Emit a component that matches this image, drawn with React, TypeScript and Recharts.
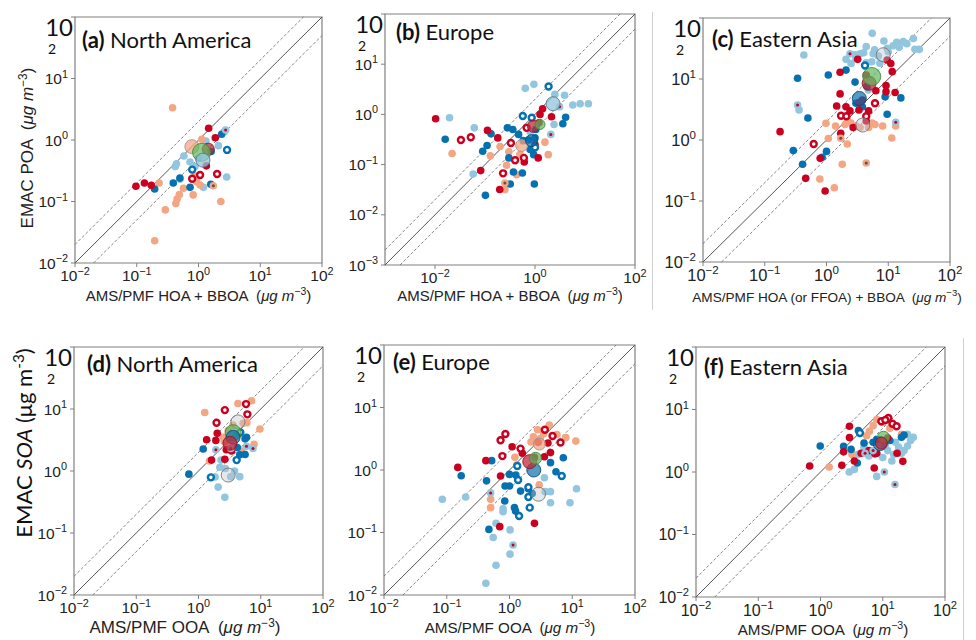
import React from "react";
import { ScatterChart, Scatter, XAxis, YAxis, ReferenceLine, ReferenceArea } from "recharts";

type P = [number, number];
type M = [number, number, string, number];

const RED = "#ca0020";
const SALMON = "#f4a582";
const LTBLUE = "#92c5de";
const BLUE = "#0571b0";

// ---- (a) North America, POA ----
const aRed: P[] = [[0.097, 0.177], [0.133, 0.2], [0.172, 0.183], [1.46, 1.55], [1.87, 1.09], [1.34, 0.38]];
const aRedRing: P[] = [[0.79, 0.235], [1.06, 0.27], [2.0, 0.28]];
const aSalmon: P[] = [[0.38, 3.35], [0.195, 0.023], [0.29, 0.073], [0.43, 0.093], [0.45, 0.11], [0.49, 0.13], [0.57, 0.164], [0.82, 0.128], [0.23, 0.2], [2.3, 0.1], [0.88, 0.26], [1.06, 0.185], [1.13, 1.03], [0.93, 0.21]];
const aSalmonDot: P[] = [[1.74, 0.18]];
const aLtBlue: P[] = [[0.42, 0.37], [0.44, 0.41], [0.58, 0.55], [0.73, 0.44], [0.88, 0.37], [1.32, 0.96], [2.1, 0.81], [2.86, 0.25], [1.2, 0.17], [0.5, 0.23], [2.6, 1.36], [1.0, 0.5]];
const aLtBlueDot: P[] = [[2.75, 1.45]];
const aBlue: P[] = [[0.195, 0.16], [0.39, 0.2], [0.73, 0.17], [1.58, 0.19], [2.37, 1.24], [1.6, 0.65], [0.5, 0.24]];
const aBlueRing: P[] = [[0.79, 0.33], [2.9, 0.69]];
const aMeans: M[] = [[0.78, 0.78, "s", 7], [1.44, 0.71, "r", 6], [1.12, 0.63, "g", 9], [1.18, 0.47, "l", 7]];

// ---- (b) Europe, POA ----
const bRed: P[] = [[0.0103, 0.82], [0.112, 0.48], [0.18, 0.34], [0.082, 0.076], [0.197, 0.032], [0.61, 0.113], [1.16, 0.136], [1.0, 0.25], [1.26, 1.0], [1.42, 1.3], [2.14, 0.9], [1.2, 0.68]];
const bRedRing: P[] = [[0.033, 0.31], [0.052, 0.35], [0.33, 0.27], [0.4, 0.122], [0.23, 0.067], [0.6, 0.136], [0.68, 0.54]];
const bSalmon: P[] = [[0.022, 0.166], [0.2, 0.23], [0.128, 0.15], [0.27, 0.097], [0.43, 0.063], [0.25, 0.032], [1.58, 0.28], [1.84, 0.158], [0.3, 0.18], [0.5, 0.16]];
const bSalmonDot: P[] = [[0.25, 0.043]];
const bLtBlue: P[] = [[0.0195, 0.86], [0.061, 0.54], [0.058, 0.065], [0.64, 3.3], [0.95, 4.0], [2.5, 2.5], [3.9, 2.4], [5.7, 1.54], [8.0, 1.63], [11.7, 1.63], [2.4, 0.63], [0.8, 0.45]];
const bLtBlueDot: P[] = [[3.1, 1.42], [2.07, 0.4]];
const bBlue: P[] = [[0.016, 0.32], [0.132, 0.41], [0.11, 0.24], [0.09, 0.185], [0.28, 0.54], [0.36, 0.5], [0.47, 0.4], [0.3, 0.136], [0.37, 0.071], [0.56, 0.068], [0.32, 0.041], [0.102, 0.0244], [0.97, 0.041], [4.1, 0.88], [3.6, 0.65], [0.8, 0.2], [1.0, 0.34], [0.74, 0.31], [1.04, 0.5], [0.94, 0.158], [0.58, 0.3]];
const bBlueRing: P[] = [[1.87, 3.6], [0.57, 0.93], [0.86, 0.86], [1.0, 0.22]];
const bMeans: M[] = [[2.3, 1.63, "l", 7], [0.54, 0.24, "s", 6], [0.85, 0.3, "b", 6], [0.93, 0.58, "r", 6], [1.26, 0.63, "g", 5]];

// ---- (c) Eastern Asia, POA ----
const cRed: P[] = [[0.177, 1.37], [1.66, 12.9], [3.2, 21], [1.66, 5.7], [1.46, 3.6], [2.07, 3.5], [3.36, 4.1], [3.35, 3.1], [4.8, 3.0], [4.4, 2.05], [2.7, 1.6], [6.3, 6.4], [9.2, 7.8], [9.2, 6.2], [12.9, 6.0], [11.6, 13.2], [9.6, 20.5], [11, 18], [4.4, 11.6], [1.7, 1.29], [0.79, 0.5], [0.46, 0.235], [0.95, 0.146], [2.4, 3.0], [3.8, 4.5]];
const cRedRing: P[] = [[6.1, 4.0], [1.72, 2.5], [2.1, 2.45], [4.4, 2.45], [0.62, 0.86]];
const cSalmon: P[] = [[0.98, 1.88], [1.4, 1.7], [1.07, 1.06], [2.17, 0.86], [1.8, 0.4], [0.78, 0.23], [1.34, 0.165], [6.1, 1.8], [8.1, 1.7], [11.4, 1.08], [13.2, 1.7], [2.0, 1.8], [2.5, 1.9], [3.0, 1.7], [3.5, 1.6], [4.8, 1.6], [2.2, 2.1], [5.5, 1.9]];
const cSalmonDot: P[] = [[4.4, 0.42], [1.7, 1.07]];
const cLtBlue: P[] = [[5.5, 56], [4.4, 34], [8.5, 42], [13.7, 40], [17.5, 41], [25.5, 46], [31.9, 30.6], [27, 30.6], [0.43, 24.7], [2.07, 21], [2.9, 25], [3.5, 26], [5.7, 26], [6.9, 23.8], [5.4, 19.2], [7.3, 18.1], [4.4, 18.5], [0.36, 3.1], [4.75, 6.6], [9.6, 32], [12, 35], [3.0, 22], [4.0, 27], [6.0, 30], [10, 28], [15, 33], [20, 38], [2.5, 18]];
const cLtBlueDot: P[] = [[0.34, 3.75], [13.2, 1.95], [2.4, 26]];
const cBlue: P[] = [[0.34, 10.3], [1.07, 11.6], [2.07, 14], [2.9, 8.9], [0.5, 2.3], [0.29, 0.67], [0.41, 0.4], [1.0, 0.65], [0.85, 0.52], [8.9, 5.1], [16, 4.9], [9.6, 2.65], [3.0, 4.0], [3.8, 3.5], [4.5, 7.5]];
const cBlueRing: P[] = [[4.2, 16.6]];
const cMeans: M[] = [[8.3, 25, "o", 7], [3.86, 1.76, "o", 7], [3.4, 4.8, "b", 7], [4.9, 8.5, "r", 7], [5.4, 11, "g", 9]];

// ---- (d) North America, SOA ----
const dRed: P[] = [[1.35, 3.2], [1.9, 3.1], [2.0, 4.05], [1.62, 1.5], [2.65, 1.55], [2.8, 2.2], [3.4, 2.1]];
const dRedRing: P[] = [[2.65, 9.6], [5.8, 12], [6.1, 8.2], [1.95, 6.0]];
const dSalmon: P[] = [[1.26, 8.8], [4.3, 12.3], [7.1, 13.6], [9.7, 4.75], [7.8, 2.7], [4.9, 2.1], [5.2, 5.9], [3.6, 5.5], [6.0, 6.0], [2.6, 3.0], [2.5, 3.5], [4.5, 4.0], [1.5, 1.45], [3.0, 4.5], [4.0, 3.8]];
const dLtBlue: P[] = [[2.07, 0.55], [2.65, 0.376], [2.2, 1.15], [2.7, 1.1], [4.6, 0.81], [3.8, 1.0], [3.3, 0.81], [1.85, 0.8], [2.3, 1.5]];
const dLtBlueDot: P[] = [[1.9, 2.2], [5.9, 2.5], [3.3, 2.3], [7.5, 2.3]];
const dBlue: P[] = [[0.7, 0.89], [1.19, 2.26], [5.6, 3.3], [5.9, 3.5], [4.6, 1.83], [5.6, 1.85], [4.2, 2.4]];
const dBlueRing: P[] = [[1.58, 0.79], [4.1, 1.5], [4.7, 4.2]];
const dMeans: M[] = [[4.3, 6.2, "o", 7], [3.0, 0.86, "o", 7], [3.6, 4.15, "g", 8], [3.6, 3.5, "b", 7], [3.2, 2.8, "r", 7]];

// ---- (e) Europe, SOA ----
const eRed: P[] = [[0.15, 1.1], [0.42, 1.41], [0.72, 0.8], [1.1, 2.36], [1.6, 1.85], [2.5, 0.14], [0.7, 0.124], [2.86, 2.77], [4.1, 2.7], [4.5, 1.9], [3.6, 1.63], [2.5, 1.6]];
const eRedRing: P[] = [[0.72, 3.0], [0.86, 3.77], [0.77, 1.67], [1.5, 2.2], [3.66, 4.4], [4.85, 3.5], [6.5, 2.75]];
const eSalmon: P[] = [[4.3, 5.25], [2.8, 4.4], [2.4, 3.4], [7.9, 3.3], [11.4, 2.9], [5.7, 3.7], [3.1, 3.2], [1.22, 1.6], [1.3, 1.2], [2.97, 0.58], [0.5, 0.34], [0.5, 0.25], [3.5, 3.8], [2.2, 2.8]];
const eLtBlue: P[] = [[0.085, 0.34], [0.2, 0.37], [0.79, 0.215], [0.79, 0.24], [0.61, 0.14], [0.55, 0.083], [1.02, 0.11], [1.02, 0.045], [0.61, 0.03], [0.42, 0.0154], [3.7, 0.45], [4.5, 0.45], [4.5, 0.3], [9.2, 0.3], [11.7, 0.5], [3.6, 0.75]];
const eLtBlueDot: P[] = [[1.14, 0.063], [0.5, 0.43]];
const eBlue: P[] = [[0.17, 0.81], [0.43, 0.67], [0.52, 1.41], [0.85, 0.555], [1.0, 0.555], [1.26, 0.83], [1.5, 0.46], [0.84, 0.32], [1.2, 0.25], [1.25, 0.22], [2.0, 0.5], [2.3, 0.42], [5.5, 0.94], [4.5, 1.31], [7.2, 1.57], [0.47, 0.112], [1.0, 0.85]];
const eBlueRing: P[] = [[1.37, 0.69], [1.33, 1.16], [2.0, 0.53], [2.0, 0.37], [2.1, 0.25], [1.42, 0.184], [6.8, 0.8]];
const eMeans: M[] = [[2.9, 0.41, "o", 7], [2.44, 1.0, "b", 7], [2.1, 1.36, "r", 7], [2.6, 1.54, "g", 6], [3.0, 2.6, "s", 6]];

// ---- (f) Eastern Asia, SOA ----
const fRed: P[] = [[0.67, 1.25], [2.92, 5.4], [2.92, 3.55], [2.2, 1.28], [2.35, 2.1], [3.5, 1.5], [7.3, 1.16], [21, 1.48], [7.5, 1.95], [8.0, 2.0], [17, 2.0], [12, 3.5], [6.0, 2.2], [4.5, 2.0]];
const fRedRing: P[] = [[12.3, 7.3], [14.3, 5.9], [16.7, 5.4], [9.5, 6.5], [11, 6.8]];
const fSalmon: P[] = [[1.38, 1.2], [8.0, 6.9], [6.1, 4.5], [7.0, 5.5], [10, 6.2], [13, 5.0], [20, 4.0], [5.5, 3.8], [3.2, 1.9]];
const fLtBlue: P[] = [[2.9, 1.0], [8.0, 0.85], [31, 3.6], [25, 4.0], [6.0, 1.8], [8.0, 2.0], [10, 1.7], [12, 2.2], [15, 1.9], [18, 2.5], [20, 2.0], [25, 2.6], [28, 3.2], [4.0, 1.9], [5.0, 2.5], [14, 1.5], [22, 2.2], [16, 3.0], [11, 2.7], [3.5, 1.1]];
const fLtBlueDot: P[] = [[10.6, 1.0], [15.7, 0.63], [5.2, 2.0], [7.0, 2.2]];
const fBlue: P[] = [[0.99, 2.6], [4.07, 4.6], [2.35, 2.57], [3.1, 2.3], [3.9, 1.39], [20, 3.6], [22, 3.9], [7.0, 3.0], [8.0, 3.3], [5.0, 2.9], [13, 3.2]];
const fBlueRing: P[] = [[4.3, 4.2]];
const fMeans: M[] = [[9.1, 2.85, "b", 7], [10.3, 3.6, "g", 6], [9.5, 2.9, "r", 6]];

const decadeTicks = [0.01, 0.1, 1, 10, 100];
const bXTicks = [0.01, 1, 100];
const bYTicks = [0.001, 0.01, 0.1, 1, 10, 100];

const TICK_FONT = "'Liberation Sans', Arial, sans-serif";
const TITLE_FONT = "Lato, 'Open Sans', sans-serif";

const pts = (arr: P[]) => arr.map(([x, y]) => ({ x, y }));

const dotShape = (fill: string) => (p: any) => <circle cx={p.cx} cy={p.cy} r={3.8} fill={fill} />;
const ringShape = (stroke: string) => (p: any) => (
  <circle cx={p.cx} cy={p.cy} r={3} fill="#fff" stroke={stroke} strokeWidth={2.4} />
);
const centerShape = (fill: string, inner: string) => (p: any) => (
  <g>
    <circle cx={p.cx} cy={p.cy} r={3.8} fill={fill} />
    <circle cx={p.cx} cy={p.cy} r={1.5} fill={inner} />
  </g>
);

const meanStyle: Record<string, { fill: string; stroke: string; op: number }> = {
  g: { fill: "#5cb85c", stroke: "#3f8a3f", op: 0.7 },
  r: { fill: "#c0283a", stroke: "#8a1a28", op: 0.75 },
  s: { fill: SALMON, stroke: "#999", op: 0.75 },
  l: { fill: LTBLUE, stroke: "#5a7a90", op: 0.75 },
  b: { fill: BLUE, stroke: "#1a4a70", op: 0.7 },
  o: { fill: "#bcc6cc", stroke: "#777", op: 0.4 },
};
const meanShape = (p: any) => {
  const d = p.payload || p;
  const st = meanStyle[d.k];
  return <circle cx={p.cx} cy={p.cy} r={d.r} fill={st.fill} fillOpacity={st.op} stroke={st.stroke} strokeWidth={0.9} />;
};

const expLabel = (v: number) => {
  const e = Math.round(Math.log10(v));
  return e < 0 ? "\u2212" + -e : String(e);
};

function XTick(props: any) {
  const { x, y, payload, fs } = props;
  return (
    <text x={x} y={y + fs * 0.72} textAnchor="middle" fontFamily={TICK_FONT} fontSize={fs} fill="#222">
      10
      <tspan dy={-fs * 0.42} fontSize={fs * 0.7}>{expLabel(payload.value)}</tspan>
    </text>
  );
}

function YTick(props: any) {
  const { x, y, payload, fs } = props;
  if (payload.value >= 100) {
    return (
      <g>
        <text x={x + 5} y={y + 19} textAnchor="end" fontFamily={TITLE_FONT} fontSize={24} fill="#111">10</text>
        <text x={x - 20} y={y + 37} fontFamily={TITLE_FONT} fontSize={14} fill="#111">2</text>
      </g>
    );
  }
  return (
    <text x={x} y={y + fs * 0.36} textAnchor="end" fontFamily={TICK_FONT} fontSize={fs} fill="#222">
      10
      <tspan dy={-fs * 0.42} fontSize={fs * 0.7}>{expLabel(payload.value)}</tspan>
    </text>
  );
}

type Series = {
  red: P[]; redRing: P[]; salmon: P[]; salmonDot: P[]; ltBlue: P[]; ltBlueDot: P[];
  blue: P[]; blueRing: P[]; means: M[];
};

const panels = [
  { left: 75, top: 17, w: 247, h: 246, xd: [0.01, 100], yd: [0.01, 100], xt: decadeTicks, yt: decadeTicks, fs: 15.5,
    s: { red: aRed, redRing: aRedRing, salmon: aSalmon, salmonDot: aSalmonDot, ltBlue: aLtBlue, ltBlueDot: aLtBlueDot, blue: aBlue, blueRing: aBlueRing, means: aMeans } },
  { left: 385, top: 14, w: 250, h: 251, xd: [0.001, 100], yd: [0.001, 100], xt: bXTicks, yt: bYTicks, fs: 15.5,
    s: { red: bRed, redRing: bRedRing, salmon: bSalmon, salmonDot: bSalmonDot, ltBlue: bLtBlue, ltBlueDot: bLtBlueDot, blue: bBlue, blueRing: bBlueRing, means: bMeans } },
  { left: 703, top: 18, w: 247, h: 244, xd: [0.01, 100], yd: [0.01, 100], xt: decadeTicks, yt: decadeTicks, fs: 16.5,
    s: { red: cRed, redRing: cRedRing, salmon: cSalmon, salmonDot: cSalmonDot, ltBlue: cLtBlue, ltBlueDot: cLtBlueDot, blue: cBlue, blueRing: cBlueRing, means: cMeans } },
  { left: 74, top: 347, w: 249, h: 248, xd: [0.01, 100], yd: [0.01, 100], xt: decadeTicks, yt: decadeTicks, fs: 15.5,
    s: { red: dRed, redRing: dRedRing, salmon: dSalmon, salmonDot: [], ltBlue: dLtBlue, ltBlueDot: dLtBlueDot, blue: dBlue, blueRing: dBlueRing, means: dMeans } },
  { left: 384, top: 345, w: 251, h: 250, xd: [0.01, 100], yd: [0.01, 100], xt: decadeTicks, yt: decadeTicks, fs: 15.5,
    s: { red: eRed, redRing: eRedRing, salmon: eSalmon, salmonDot: [], ltBlue: eLtBlue, ltBlueDot: eLtBlueDot, blue: eBlue, blueRing: eBlueRing, means: eMeans } },
  { left: 696, top: 347, w: 249, h: 250, xd: [0.01, 100], yd: [0.01, 100], xt: decadeTicks, yt: decadeTicks, fs: 16,
    s: { red: fRed, redRing: fRedRing, salmon: fSalmon, salmonDot: [], ltBlue: fLtBlue, ltBlueDot: fLtBlueDot, blue: fBlue, blueRing: fBlueRing, means: fMeans } },
];

function Panel({ cfg }: { cfg: (typeof panels)[number] }) {
  const { left, top, w, h, xd, yd, xt, yt, fs } = cfg;
  const s: Series = cfg.s;
  const [x0, x1] = xd;
  const [y0, y1] = yd;
  const means = s.means.map(([x, y, k, r]) => ({ x, y, k, r }));
  return (
    <div style={{ position: "absolute", left: left - 70, top: top - 10 }}>
      <ScatterChart width={w + 82} height={h + 50} margin={{ top: 10, right: 12, bottom: 0, left: 0 }}>
        <XAxis type="number" dataKey="x" scale="log" domain={xd} ticks={xt} allowDataOverflow interval={0}
          height={40} tickSize={4} tickMargin={3} axisLine={false} tickLine={{ stroke: "#808080" }} tick={<XTick fs={fs} />} />
        <YAxis type="number" dataKey="y" scale="log" domain={yd} ticks={yt} allowDataOverflow interval={0}
          width={70} tickSize={4} tickMargin={3} axisLine={false} tickLine={{ stroke: "#808080" }} tick={<YTick fs={fs} />} />
        <ReferenceArea x1={x0} x2={x1} y1={y0} y2={y1} fill="none" stroke="#808080" strokeWidth={1.2} ifOverflow="visible" />
        <ReferenceLine segment={[{ x: x0, y: y0 }, { x: x1, y: y1 }]} stroke="#555" strokeWidth={1} ifOverflow="visible" />
        <ReferenceLine segment={[{ x: x0, y: 2 * x0 }, { x: y1 / 2, y: y1 }]} stroke="#666" strokeWidth={0.8} strokeDasharray="3 2" ifOverflow="visible" />
        <ReferenceLine segment={[{ x: 2 * y0, y: y0 }, { x: x1, y: x1 / 2 }]} stroke="#666" strokeWidth={0.8} strokeDasharray="3 2" ifOverflow="visible" />
        <Scatter data={pts(s.ltBlue)} shape={dotShape(LTBLUE)} isAnimationActive={false} />
        <Scatter data={pts(s.salmon)} shape={dotShape(SALMON)} isAnimationActive={false} />
        <Scatter data={pts(s.blue)} shape={dotShape(BLUE)} isAnimationActive={false} />
        <Scatter data={pts(s.red)} shape={dotShape(RED)} isAnimationActive={false} />
        <Scatter data={pts(s.ltBlueDot)} shape={centerShape(LTBLUE, RED)} isAnimationActive={false} />
        <Scatter data={pts(s.salmonDot)} shape={centerShape(SALMON, "#555")} isAnimationActive={false} />
        <Scatter data={pts(s.blueRing)} shape={ringShape(BLUE)} isAnimationActive={false} />
        <Scatter data={pts(s.redRing)} shape={ringShape(RED)} isAnimationActive={false} />
        <Scatter data={means} shape={meanShape} isAnimationActive={false} />
      </ScatterChart>
    </div>
  );
}

const unit = (
  <>
    <tspan fontStyle="italic">μg m</tspan>
    <tspan dy={-6} fontSize="0.7em">−3</tspan>
    <tspan dy={6}>)</tspan>
  </>
);

export default function App() {
  return (
    <div style={{ position: "absolute", left: 0, top: 0, width: 976, height: 640, background: "#fff", overflow: "hidden" }}>
      {panels.map((p, i) => (
        <Panel key={i} cfg={p} />
      ))}
      <svg width={976} height={640} style={{ position: "absolute", left: 0, top: 0, pointerEvents: "none" }}>
        <line x1={652.5} y1={12} x2={652.5} y2={310} stroke="#d0d0d0" strokeWidth={1} />
        <line x1={963.5} y1={338} x2={963.5} y2={640} stroke="#d0d0d0" strokeWidth={1} />

        <g fontFamily={TITLE_FONT} fontSize={22} fill="#111">
          <text x={82} y={48}><tspan fontWeight="bold">(a)</tspan> North America</text>
          <text x={396} y={40}><tspan fontWeight="bold">(b)</tspan> Europe</text>
          <text x={712} y={47}><tspan fontWeight="bold">(c)</tspan> Eastern Asia</text>
          <text x={87} y={372}><tspan fontWeight="bold">(d)</tspan> North America</text>
          <text x={393} y={370}><tspan fontWeight="bold">(e)</tspan> Europe</text>
          <text x={704} y={375}><tspan fontWeight="bold">(f)</tspan> Eastern Asia</text>
        </g>

        <g fontFamily={TICK_FONT} fill="#222">
          <text x={198.5} y={301} fontSize={15} textAnchor="middle" xmlSpace="preserve">AMS/PMF HOA + BBOA  ({unit}</text>
          <text x={510} y={301} fontSize={15} textAnchor="middle" xmlSpace="preserve">AMS/PMF HOA + BBOA  ({unit}</text>
          <text x={827} y={302} fontSize={13.6} textAnchor="middle" xmlSpace="preserve">AMS/PMF HOA (or FFOA) + BBOA  ({unit}</text>
          <text x={185} y={633} fontSize={17} textAnchor="middle" xmlSpace="preserve">AMS/PMF OOA  ({unit}</text>
          <text x={510} y={633} fontSize={15.2} textAnchor="middle" xmlSpace="preserve">AMS/PMF OOA  ({unit}</text>
          <text x={823} y={635} fontSize={15.2} textAnchor="middle" xmlSpace="preserve">AMS/PMF OOA  ({unit}</text>
          <text x={33} y={148} fontSize={17} textAnchor="middle" transform="rotate(-90 33 148)" xmlSpace="preserve">EMAC POA  ({unit}</text>
        </g>
        <text x={32} y={443} fontFamily={TITLE_FONT} fontSize={22} fill="#111" textAnchor="middle" transform="rotate(-90 32 443)">
          EMAC <tspan fontStyle="italic">SOA</tspan> (μg m<tspan dy={-8} fontSize="0.7em">-3</tspan><tspan dy={8}>)</tspan>
        </text>
      </svg>
    </div>
  );
}
